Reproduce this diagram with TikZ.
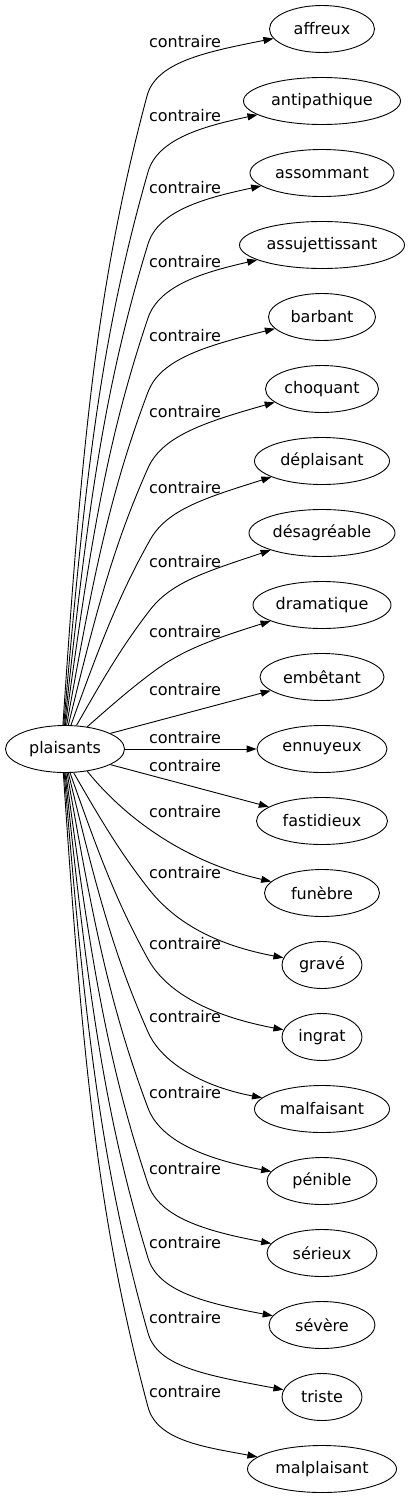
\documentclass[tikz,border=0pt]{standalone}
\usepackage{fontspec}
\setmainfont{DejaVu Sans}
\usetikzlibrary{shapes.geometric,arrows.meta}
\tikzset{
  word/.style={draw, ellipse, minimum height=47pt, inner sep=0pt, line width=0.9pt,
    font=\fontsize{16}{19}\selectfont},
  lbl/.style={inner sep=0pt, font=\fontsize{16}{19}\selectfont},
  rel/.style={line width=0.9pt, -{Triangle[length=10pt,width=7pt]}},
}
\begin{document}
\begin{tikzpicture}[x=1pt,y=-1pt]
\useasboundingbox (0,0) rectangle (410,1499);
\node[word, minimum width=119pt] (plaisants) at (65,749) {plaisants};
\node[word, minimum width=105pt] (affreux) at (322,29) {affreux};
\node[word, minimum width=157pt] (antipathique) at (322,101) {antipathique};
\node[word, minimum width=144pt] (assommant) at (322,173) {assommant};
\node[word, minimum width=165pt] (assujettissant) at (322,245) {assujettissant};
\node[word, minimum width=107pt] (barbant) at (322,317) {barbant};
\node[word, minimum width=113pt] (choquant) at (322,389) {choquant};
\node[word, minimum width=135pt] (deplaisant) at (322,461) {déplaisant};
\node[word, minimum width=146pt] (desagreable) at (322,533) {désagréable};
\node[word, minimum width=138pt] (dramatique) at (322,605) {dramatique};
\node[word, minimum width=124pt] (embetant) at (322,677) {embêtant};
\node[word, minimum width=130pt] (ennuyeux) at (322,749) {ennuyeux};
\node[word, minimum width=131pt] (fastidieux) at (322,821) {fastidieux};
\node[word, minimum width=115pt] (funebre) at (322,893) {funèbre};
\node[word, minimum width=80pt] (grave) at (322,965) {gravé};
\node[word, minimum width=80pt] (ingrat) at (322,1037) {ingrat};
\node[word, minimum width=135pt] (malfaisant) at (322,1109) {malfaisant};
\node[word, minimum width=110pt] (penible) at (322,1181) {pénible};
\node[word, minimum width=110pt] (serieux) at (322,1253) {sérieux};
\node[word, minimum width=106pt] (severe) at (322,1325) {sévère};
\node[word, minimum width=80pt] (triste) at (322,1397) {triste};
\node[word, minimum width=149pt] (malplaisant) at (322,1469) {malplaisant};

\node[lbl] (l01) at (185,42) {contraire};
\node[lbl] (l02) at (185,116) {contraire};
\node[lbl] (l03) at (185,188) {contraire};
\node[lbl] (l04) at (185,262) {contraire};
\node[lbl] (l05) at (185,336) {contraire};
\node[lbl] (l06) at (185,412) {contraire};
\node[lbl] (l07) at (185,488) {contraire};
\node[lbl] (l08) at (185,562) {contraire};
\node[lbl] (l09) at (185,632) {contraire};
\node[lbl] (l10) at (185,690) {contraire};
\node[lbl] (l11) at (185,738) {contraire};
\node[lbl] (l12) at (185,766) {contraire};
\node[lbl] (l13) at (185,812) {contraire};
\node[lbl] (l14) at (185,873) {contraire};
\node[lbl] (l15) at (185,944) {contraire};
\node[lbl] (l16) at (185,1017) {contraire};
\node[lbl] (l17) at (185,1093) {contraire};
\node[lbl] (l18) at (185,1169) {contraire};
\node[lbl] (l19) at (185,1243) {contraire};
\node[lbl] (l20) at (185,1318) {contraire};
\node[lbl] (l21) at (185,1392) {contraire};

\draw[rel] (plaisants.95) .. controls (81.8,442) and (96.6,284.7) .. (147,96) .. controls (156,62.2) and (205,52) .. (affreux);
\draw[rel] (plaisants.93) .. controls (85,476) and (100.6,337.9) .. (148,172) .. controls (157.6,138.3) and (205,126) .. (antipathique);
\draw[rel] (plaisants.91) .. controls (87.7,508.5) and (103.8,388.3) .. (148,244) .. controls (158.3,210.5) and (205,198) .. (assommant);
\draw[rel] (plaisants.89) .. controls (90.4,541.8) and (106.9,440.1) .. (148,318) .. controls (159.2,284.8) and (205,272) .. (assujettissant);
\draw[rel] (plaisants.86) .. controls (93.3,575.1) and (110.3,491.9) .. (148,392) .. controls (160.4,359.3) and (205,346) .. (barbant);
\draw[rel] (plaisants.82) .. controls (96.5,609.3) and (113.8,545.1) .. (148,468) .. controls (162.2,436) and (205,422) .. (choquant);
\draw[rel] (plaisants.76) .. controls (101,641.7) and (118.9,595.5) .. (150,540) .. controls (167.1,509.4) and (205,498) .. (deplaisant);
\draw[rel] (plaisants.64) .. controls (106.1,673.5) and (123.3,644.6) .. (150,610) .. controls (171.4,582.3) and (205,572) .. (desagreable);
\draw[rel] (plaisants.45) .. controls (115.2,702.1) and (131.1,688.4) .. (153,672) .. controls (181,651) and (210,640) .. (dramatique);
\draw[rel] (plaisants.19) -- (embetant);
\draw[rel] (plaisants) -- (ennuyeux);
\draw[rel] (plaisants.341) -- (fastidieux);
\draw[rel] (plaisants.315) .. controls (125,818) and (185,862) .. (funebre);
\draw[rel] (plaisants.290) .. controls (103.6,824.8) and (121.1,853.5) .. (148,888) .. controls (169.5,915.6) and (205,943) .. (grave);
\draw[rel] (plaisants.282) .. controls (99.6,856.7) and (117.2,903.2) .. (148,959) .. controls (164.9,989.7) and (205,1015) .. (ingrat);
\draw[rel] (plaisants.278) .. controls (96.4,889.6) and (113.7,954.3) .. (148,1032) .. controls (162.1,1064) and (205,1087) .. (malfaisant);
\draw[rel] (plaisants.275) .. controls (93.4,923.8) and (110.3,1007.5) .. (148,1108) .. controls (160.3,1140.8) and (205,1159) .. (penible);
\draw[rel] (plaisants.272) .. controls (90.5,958) and (106.9,1060.7) .. (148,1184) .. controls (159.1,1217.2) and (205,1231) .. (serieux);
\draw[rel] (plaisants.270) .. controls (87.8,991.3) and (103.7,1112.5) .. (148,1258) .. controls (158.2,1291.5) and (205,1303) .. (severe);
\draw[rel] (plaisants.268) .. controls (85.1,1025) and (100.5,1165) .. (148,1333) .. controls (157.5,1366.7) and (205,1375) .. (triste);
\draw[rel] (plaisants.266) .. controls (82.4,1058.3) and (97.2,1216.8) .. (148,1407) .. controls (157,1440.8) and (205,1447) .. (malplaisant);
\end{tikzpicture}
\end{document}
